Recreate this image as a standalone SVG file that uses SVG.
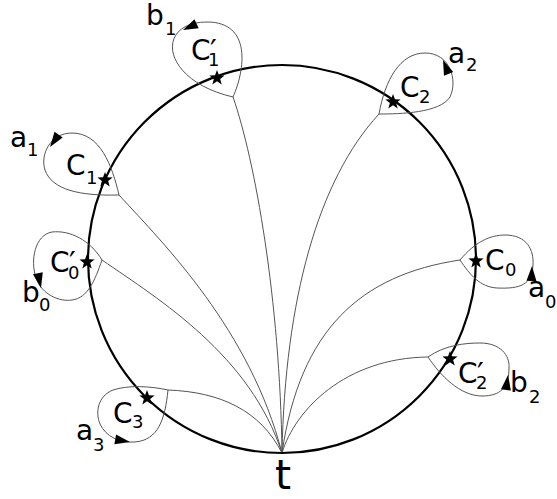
<svg xmlns="http://www.w3.org/2000/svg" width="557" height="499" viewBox="0 0 557 499">
<style>
.circ{fill:none;stroke:#000;stroke-width:2.2}
.loop{fill:none;stroke:#555;stroke-width:1}
.conn{fill:none;stroke:#555;stroke-width:1}
.lbl{font-family:"DejaVu Sans",sans-serif;font-size:28px;fill:#000}
.sub{font-size:18px}
.pr{font-size:30px}
.big{font-family:"DejaVu Sans",sans-serif;font-size:41px;fill:#000}
</style>
<defs>
<path id="star" d="M0,-8 L1.94,-2.67 L7.61,-2.47 L3.14,1.02 L4.7,6.47 L0,3.3 L-4.7,6.47 L-3.14,1.02 L-7.61,-2.47 L-1.94,-2.67 Z" fill="#000"/>
<path id="arr" d="M0,0 L-15,-5 L-15,5 Z" fill="#000"/>
</defs>
<rect width="557" height="499" fill="#fff"/>
<g id="connectors">
<path class="conn" d="M233,97 C255,160 280,300 282,453"/>
<path class="conn" d="M379,114 C318,180 285,300 282,453"/>
<path class="conn" d="M119,195 C165,245 250,330 282,453"/>
<path class="conn" d="M102,260 C160,300 250,355 282,453"/>
<path class="conn" d="M460,260 C360,275 300,330 282,453"/>
<path class="conn" d="M428,357 C345,358 295,410 282,453"/>
<path class="conn" d="M168,390 C220,392 260,410 282,453"/>
</g>
<g id="circle"><circle class="circ" cx="282" cy="259" r="194"/></g>
<g id="t"><text class="big" x="275" y="489">t</text></g>
<g id="C1p">
<path class="loop" d="M233,97 C160,80 155,22 207,22 C252,22 245,70 233,97 Z"/>
<use href="#arr" transform="translate(183,30) rotate(155)"/>
<use href="#star" x="217" y="78"/>
<text class="lbl" x="191" y="60">C<tspan class="pr" x="210" y="61">′</tspan><tspan class="sub" x="208" y="66">1</tspan></text>
<text class="lbl" x="146" y="25">b<tspan class="sub" x="165" y="35">1</tspan></text>
</g>
<g id="C2">
<path class="loop" d="M379,114 C385,80 400,53 425,53 C450,53 458,80 450,97 C440,113 400,114 379,114 Z"/>
<use href="#arr" transform="translate(443,60) rotate(-112)"/>
<use href="#star" x="393" y="102"/>
<text class="lbl" x="400" y="97">C<tspan class="sub" x="419" y="103">2</tspan></text>
<text class="lbl" x="448" y="63">a<tspan class="sub" x="466" y="71">2</tspan></text>
</g>
<g id="C1">
<path class="loop" d="M119,195 C112,165 100,133 72,133 C50,133 40,155 45,170 C52,190 80,196 119,195 Z"/>
<use href="#arr" transform="translate(50,147) rotate(125)"/>
<use href="#star" x="105" y="180"/>
<text class="lbl" x="66" y="175">C<tspan class="sub" x="86" y="184">1</tspan></text>
<text class="lbl" x="10" y="147">a<tspan class="sub" x="27" y="156">1</tspan></text>
</g>
<g id="C0p">
<path class="loop" d="M102,260 C90,240 70,230 52,232 C35,235 30,260 36,278 C42,295 60,302 72,300 C88,298 95,280 102,260 Z"/>
<use href="#arr" transform="translate(41,288) rotate(78)"/>
<use href="#star" x="87" y="262"/>
<text class="lbl" x="50" y="272">C<tspan class="pr" x="69" y="273">′</tspan><tspan class="sub" x="68" y="279">0</tspan></text>
<text class="lbl" x="22" y="302">b<tspan class="sub" x="39" y="311">0</tspan></text>
</g>
<g id="C0">
<path class="loop" d="M460,260 C475,242 490,235 505,235 C527,235 534,250 533,265 C532,285 520,289 497,288 C480,287 470,275 460,260 Z"/>
<use href="#arr" transform="translate(532,266) rotate(-88)"/>
<use href="#star" x="476" y="261"/>
<text class="lbl" x="485" y="270">C<tspan class="sub" x="505" y="276">0</tspan></text>
<text class="lbl" x="528" y="297">a<tspan class="sub" x="545" y="308">0</tspan></text>
</g>
<g id="C2p">
<path class="loop" d="M428,357 C445,345 465,343 480,343 C500,343 510,355 509,368 C509,388 500,396 482,396 C460,396 440,375 428,357 Z"/>
<use href="#arr" transform="translate(508,375) rotate(-82)"/>
<use href="#star" x="450" y="359"/>
<text class="lbl" x="458" y="383">C<tspan class="pr" x="477" y="384">′</tspan><tspan class="sub" x="476" y="389">2</tspan></text>
<text class="lbl" x="510" y="392">b<tspan class="sub" x="529" y="403">2</tspan></text>
</g>
<g id="C3">
<path class="loop" d="M168,390 C150,386 128,385 113,390 C98,396 95,412 100,424 C106,437 120,443 135,442 C158,440 165,420 168,390 Z"/>
<use href="#arr" transform="translate(130,442) rotate(10)"/>
<use href="#star" x="147" y="398"/>
<text class="lbl" x="113" y="423">C<tspan class="sub" x="132" y="428">3</tspan></text>
<text class="lbl" x="76" y="440">a<tspan class="sub" x="93" y="451">3</tspan></text>
</g>
</svg>
